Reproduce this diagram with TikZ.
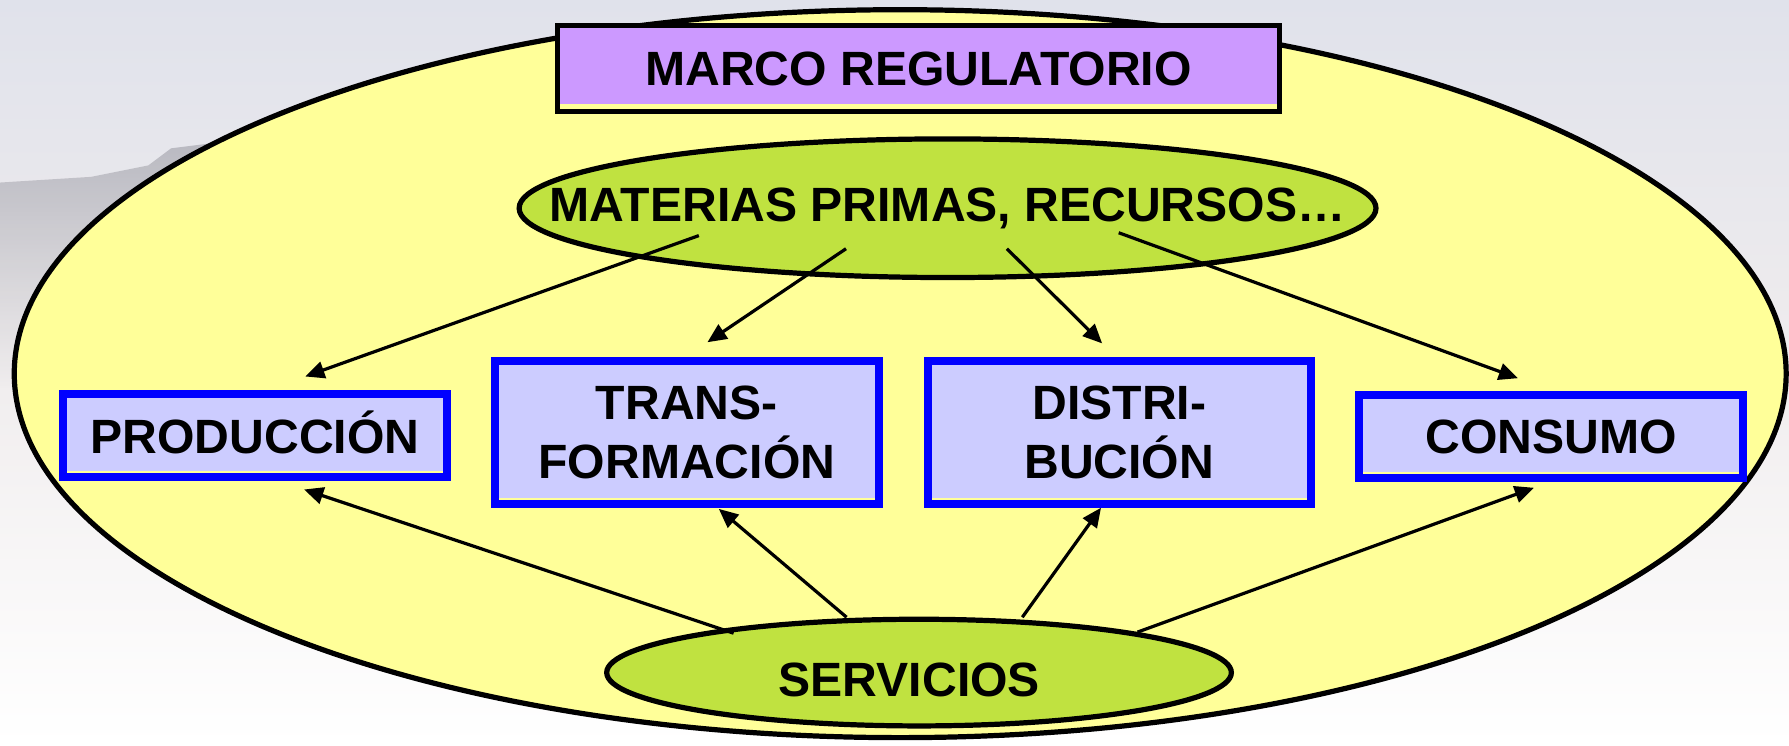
\documentclass[tikz,border=0pt]{standalone}
\usepackage{fontspec}
\setmainfont{Liberation Sans}
\usetikzlibrary{shapes.geometric, arrows.meta}
\definecolor{amarillo}{RGB}{255,255,153}
\definecolor{lila}{RGB}{204,153,255}
\definecolor{verde}{RGB}{192,226,64}
\definecolor{celeste}{RGB}{204,204,255}
\definecolor{cielo}{RGB}{224,226,235}
\definecolor{suelo}{RGB}{240,237,238}
\definecolor{colina}{RGB}{178,178,186}

\begin{document}
\begin{tikzpicture}[
    texto/.style={font=\bfseries\fontsize{12}{14.5}\selectfont, align=center},
    franja/.style={path picture={\fill[amarillo] (path picture bounding box.south west)
        rectangle ([yshift=#1]path picture bounding box.south east);}},
    etapa/.style={texto, rectangle, draw=blue, line width=2pt, fill=celeste,
        franja=1.5pt, minimum width=3.36cm, inner sep=0pt},
    elipse/.style={ellipse, draw, line width=1.3pt, fill=verde, inner sep=0pt},
    flecha/.style={-{Triangle[length=4.8pt,width=4.2pt]}, line width=0.8pt}
  ]
        % fondo (foto)
        \fill[top color=cielo, bottom color=white, middle color=suelo] (0,0) rectangle (15.68,-6.53);
        \shade[top color=colina, bottom color=suelo, opacity=.85] (0,-1.6) -- (0.8,-1.55) -- (1.3,-1.45)
          -- (1.5,-1.3) -- (1.9,-1.25) -- (2.2,-1.3) -- (2.2,-3.4) -- (0,-3.4) -- cycle;
        \useasboundingbox (0,0) rectangle (15.68,-6.53);

        \draw[fill=amarillo, line width=1.3pt] (7.89,-3.275) ellipse [x radius=7.765, y radius=3.19];

        \node[texto, draw, line width=1.2pt, fill=lila, franja=1.9pt, minimum width=6.33cm,
          minimum height=0.755cm, inner sep=0pt, text height=8.6pt, text depth=0pt]
          (marco) at (8.05,-0.60) {MARCO REGULATORIO};

        \node[elipse, minimum width=7.51cm, minimum height=1.215cm] (mat) at (8.305,-1.825) {};
        \node[texto] (mattxt) at (mat) {MATERIAS PRIMAS, RECURSOS…};

        \node[elipse, minimum width=5.475cm, minimum height=0.935cm] (serv) at (8.055,-5.895) {};
        \node[texto] (servtxt) at ([shift={(-0.085,-0.06)}]serv.center) {SERVICIOS};

        \node[etapa, minimum height=0.73cm, text height=8.6pt, text depth=0pt]
          (prod) at (2.235,-3.82) {PRODUCCIÓN};
        \node[etapa, minimum height=1.25cm] (trans) at (6.02,-3.79) {TRANS-\\FORMACIÓN};
        \node[etapa, minimum height=1.25cm] (distri) at (9.81,-3.79) {DISTRI-\\BUCIÓN};
        \node[etapa, minimum height=0.73cm, text height=8.6pt, text depth=0pt]
          (cons) at (13.595,-3.825) {CONSUMO};

        \foreach \dx/\dy/\n/\ex/\ey in {-2.18/-0.24/prod/0.44/0.12, -0.89/-0.355/trans/0.18/0.13,
            0.52/-0.355/distri/-0.15/0.12, 1.50/-0.215/cons/-0.29/0.11}
          \draw[flecha] ([shift={(\dx,\dy)}]mat.center) -- ([shift={(\ex,\ey)}]\n.north);

        \foreach \dx/\dy/\n/\ex/\ey in {-1.625/0.345/prod/0.43/-0.07, -0.635/0.485/trans/0.28/-0.01,
            0.905/0.485/distri/-0.16/0, 1.915/0.355/cons/-0.15/-0.05}
          \draw[flecha] ([shift={(\dx,\dy)}]serv.center) -- ([shift={(\ex,\ey)}]\n.south);
\end{tikzpicture}
\end{document}
